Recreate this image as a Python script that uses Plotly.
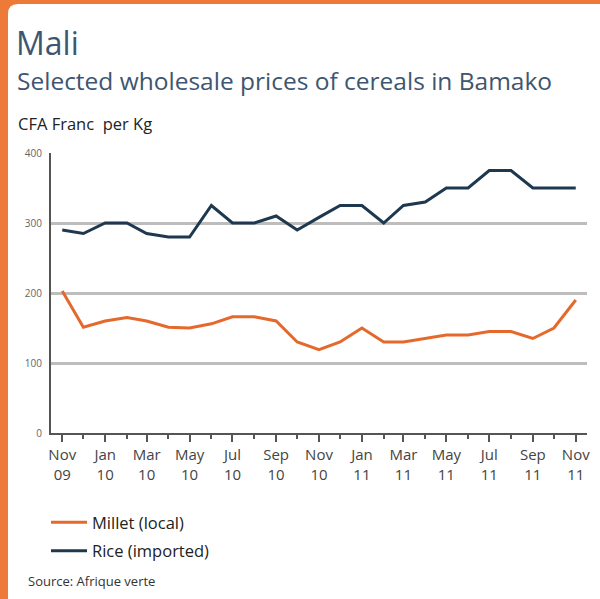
import plotly.graph_objects as go

# ---- data ----
months = ["2009-11-01", "2009-12-01", "2010-01-01", "2010-02-01", "2010-03-01",
          "2010-04-01", "2010-05-01", "2010-06-01", "2010-07-01", "2010-08-01",
          "2010-09-01", "2010-10-01", "2010-11-01", "2010-12-01", "2011-01-01",
          "2011-02-01", "2011-03-01", "2011-04-01", "2011-05-01", "2011-06-01",
          "2011-07-01", "2011-08-01", "2011-09-01", "2011-10-01", "2011-11-01"]
millet = [203, 151, 160, 165, 160, 151, 150, 156, 166, 166, 160, 130, 119,
          130, 150, 130, 130, 135, 140, 140, 145, 145, 135, 150, 190]
rice = [290, 285, 300, 300, 285, 280, 280, 325, 300, 300, 310, 290, 308,
        325, 325, 300, 325, 330, 350, 350, 375, 375, 350, 350, 350]
y_ticks = [0, 100, 200, 300, 400]

# ---- geometry helpers ----
W, H = 600, 599
L, R, T, B = 51, 13, 153, 166
PW, PH = W - L - R, H - T - B


def px(x):
    return (x - L) / PW


def py(y):
    return (H - B - y) / PH


ORANGE = "#EE7A3A"
NAVY = "#1E3850"
TITLE_C = "#3E5670"

fig = go.Figure()
fig.add_trace(go.Scatter(x=months, y=millet, name="Millet (local)", mode="lines",
                         line=dict(color="#E5692C", width=3), legendgroup="a"))
fig.add_trace(go.Scatter(x=months, y=rice, name="Rice (imported)", mode="lines",
                         line=dict(color=NAVY, width=3), legendgroup="b"))

fig.update_layout(
    width=W, height=H,
    margin=dict(l=L, r=R, t=T, b=B, autoexpand=False),
    paper_bgcolor="white", plot_bgcolor="white",
    font=dict(family="Open Sans", color="#333"),
    showlegend=True,
    legend=dict(x=px(46), y=py(505), xanchor="left", yanchor="top",
                font=dict(size=16.5, color="#222"), tracegroupgap=4,
                itemwidth=36, bgcolor="rgba(0,0,0,0)"),
    xaxis=dict(type="date", range=["2009-10-16", "2011-11-17"],
               tick0="2009-11-01", dtick="M2", tickformat="%b<br>%y",
               ticks="outside", ticklen=7, tickwidth=2, tickcolor="#555",
               showline=True, linecolor="#555", linewidth=2,
               showgrid=False, zeroline=False,
               tickfont=dict(size=15, color="#444"),
               minor=dict(dtick="M1", tick0="2009-11-01", ticks="outside",
                          ticklen=4, tickwidth=2, tickcolor="#555", showgrid=False)),
    yaxis=dict(range=[0, 400], tickvals=y_ticks, showgrid=True,
               gridcolor="#BDBDBD", gridwidth=3, zeroline=False,
               showline=True, linecolor="#555", linewidth=2,
               ticks="", ticklabelstandoff=5,
               tickfont=dict(size=10, color="#666")),
)

# orange frame: top and left edges with rounded inner corner
x0, x1 = px(0), px(620)
y0, y1 = py(0), py(620)
ix, iy, r = px(8), py(4), 10
path = (f"M {x0},{y0} L {x1},{y0} L {x1},{y1} L {x0},{y1} Z "
        f"M {ix},{y1} L {ix},{py(4 + r)} Q {ix},{iy} {px(8 + r)},{iy} "
        f"L {x1},{iy} L {x1},{y1} Z")
fig.add_shape(type="path", path=path, xref="paper", yref="paper",
              fillcolor=ORANGE, line=dict(width=0), layer="above")

fig.add_annotation(text="Mali", x=px(14), y=py(42), xref="paper", yref="paper",
                   xanchor="left", yanchor="middle", showarrow=False,
                   font=dict(size=32, color=TITLE_C, family="Open Sans"))
fig.add_annotation(text="Selected wholesale prices of cereals in Bamako",
                   x=px(15), y=py(80), xref="paper", yref="paper",
                   xanchor="left", yanchor="middle", showarrow=False,
                   font=dict(size=24.5, color=TITLE_C, family="Open Sans"))
fig.add_annotation(text="CFA Franc  per Kg", x=px(16), y=py(124), xref="paper",
                   yref="paper", xanchor="left", yanchor="middle", showarrow=False,
                   font=dict(size=16.5, color="#222", family="Open Sans"))
fig.add_annotation(text="Source: Afrique verte", x=px(26), y=py(581), xref="paper",
                   yref="paper", xanchor="left", yanchor="middle", showarrow=False,
                   font=dict(size=13, color="#333", family="Open Sans"))

fig.write_html("out.html", config={"displayModeBar": False},
               post_script="document.body.style.margin='0';")
